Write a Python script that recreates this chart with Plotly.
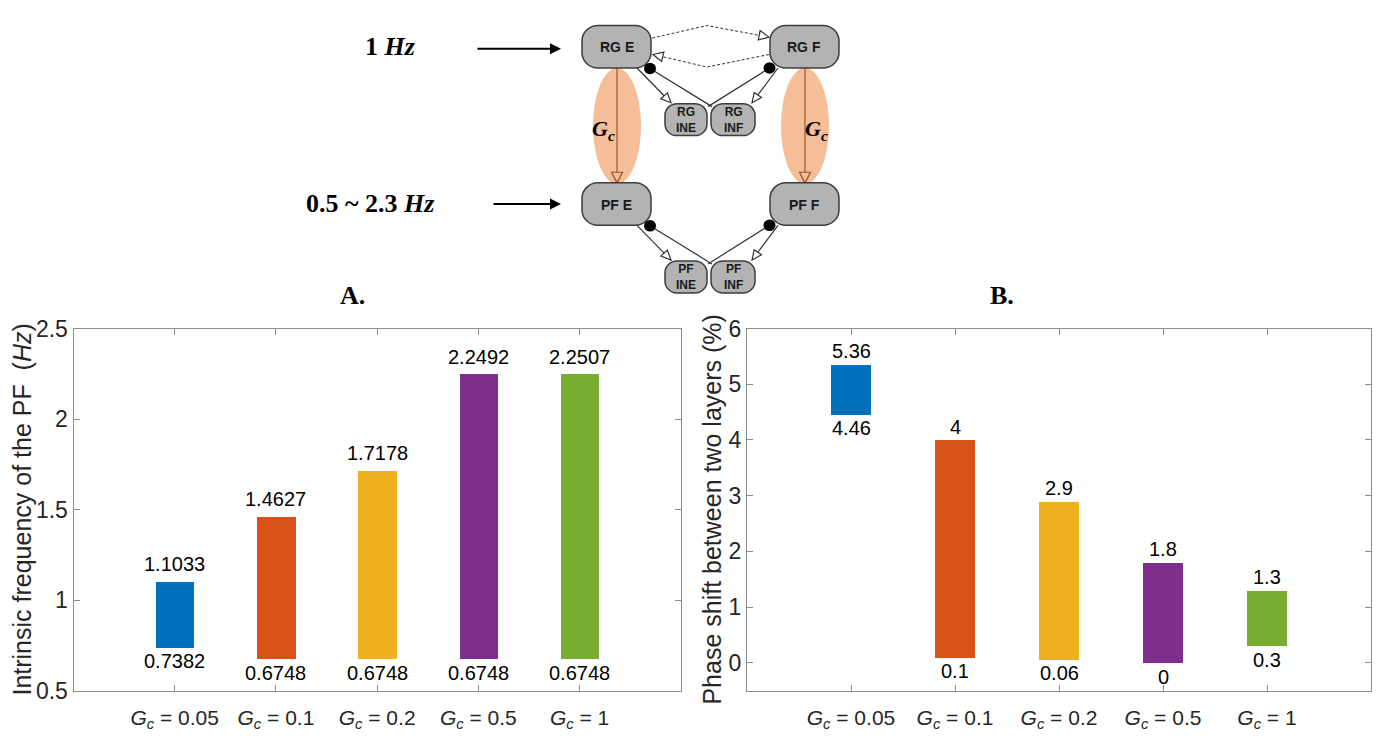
import math
import plotly.graph_objects as go

W, H = 1378, 746

# ---- data ----
gc_labels = ["0.05", "0.1", "0.2", "0.5", "1"]
positions = [1, 2, 3, 4, 5]
freq_low = [0.7382, 0.6748, 0.6748, 0.6748, 0.6748]
freq_high = [1.1033, 1.4627, 1.7178, 2.2492, 2.2507]
shift_low = [4.46, 0.1, 0.06, 0, 0.3]
shift_high = [5.36, 4, 2.9, 1.8, 1.3]
bar_colors = ["#0072BD", "#D95319", "#EDB120", "#7E2F8E", "#77AC30"]
freq_ticks = [0.5, 1, 1.5, 2, 2.5]
shift_ticks = [0, 1, 2, 3, 4, 5, 6]

tick_text = [f"<i>G</i><sub><i>c</i></sub> = {g}" for g in gc_labels]

SANS = "Arial, Liberation Sans, sans-serif"
SERIF = "Times New Roman, Liberation Serif, serif"


def fx(x):
    return x / W


def fy(y):
    return 1 - y / H


def pt(x, y):
    return f"{fx(x):.5f},{fy(y):.5f}"


def note(x, y, text, size, family=SANS, color="black", **kw):
    """Centered text placed in figure pixels."""
    d = dict(x=fx(x), y=fy(y), xref="paper", yref="paper", text=text, showarrow=False,
             xanchor="center", yanchor="middle", font=dict(family=family, size=size, color=color))
    d.update(kw)
    return d


fig = go.Figure()

# ---- bar panels ----
fig.add_trace(go.Bar(
    x=positions, y=[h - l for h, l in zip(freq_high, freq_low)], base=freq_low,
    width=0.38, marker=dict(color=bar_colors, line=dict(width=0)),
    xaxis="x", yaxis="y", showlegend=False, hoverinfo="skip"))
fig.add_trace(go.Bar(
    x=positions, y=[h - l for h, l in zip(shift_high, shift_low)], base=shift_low,
    width=0.38, marker=dict(color=bar_colors, line=dict(width=0)),
    xaxis="x2", yaxis="y2", showlegend=False, hoverinfo="skip"))

LABEL_FONT = dict(family=SANS, size=20, color="black")
annotations = []
for p, lo, hi in zip(positions, freq_low, freq_high):
    annotations.append(dict(x=p, y=hi, xref="x", yref="y", text=f"{hi:g}", showarrow=False,
                            xanchor="center", yanchor="bottom", yshift=4, font=LABEL_FONT))
    annotations.append(dict(x=p, y=lo, xref="x", yref="y", text=f"{lo:g}", showarrow=False,
                            xanchor="center", yanchor="top", yshift=-1, font=LABEL_FONT))
for p, lo, hi in zip(positions, shift_low, shift_high):
    annotations.append(dict(x=p, y=hi, xref="x2", yref="y2", text=f"{hi:g}", showarrow=False,
                            xanchor="center", yanchor="bottom", yshift=0, font=LABEL_FONT))
    annotations.append(dict(x=p, y=lo, xref="x2", yref="y2", text=f"{lo:g}", showarrow=False,
                            xanchor="center", yanchor="top", yshift=-1, font=LABEL_FONT))

# axis frames
axis_common = dict(showgrid=False, zeroline=False, showline=True, linecolor="#8c8c8c", linewidth=1,
                   mirror="ticks", ticks="inside", ticklen=6, tickcolor="#8c8c8c")
top_px, bot_px = 327, 702
ydom = [fy(bot_px), fy(top_px)]
xtick_font = dict(family=SANS, size=21, color="#262626")
ytick_font = dict(family=SANS, size=23, color="#262626")

fig.update_layout(
    xaxis=dict(domain=[fx(73.5), fx(680.8)], range=[0, 6], tickvals=positions, ticktext=tick_text,
               tickfont=xtick_font, ticklabelstandoff=8, anchor="y", **axis_common),
    yaxis=dict(domain=ydom, range=[0.5, 2.5], tickvals=freq_ticks, ticktext=[f"{v:g}" for v in freq_ticks],
               tickfont=ytick_font, anchor="x", **axis_common),
    xaxis2=dict(domain=[fx(747), fx(1371)], range=[0, 6], tickvals=positions, ticktext=tick_text,
                tickfont=xtick_font, ticklabelstandoff=8, anchor="y2", **axis_common),
    yaxis2=dict(domain=ydom, range=[-0.5, 6], tickvals=shift_ticks, ticktext=[f"{v:g}" for v in shift_ticks],
                tickfont=ytick_font, anchor="x2", **axis_common),
)

# axis titles and panel letters
annotations += [
    note(22, 514.5, "Intrinsic frequency of the PF  (<i>Hz</i>)", 25, color="#262626", textangle=-90),
    note(712, 514.5, "Phase shift between two layers (%)", 25, color="#262626", textangle=-90),
    note(352, 293, "<b>A.</b>", 26, family=SERIF),
    note(1002, 293, "<b>B.</b>", 26, family=SERIF),
]

# ---- network schematic ----
shapes = []
BOX_FILL = "#b3b3b3"
BOX_LINE = "#3c3c3c"
GC_LINE = "#9a5230"
NET_LINE = "#333333"


def rounded_box(x0, y0, x1, y1, r):
    k = 0.4477 * r
    path = (f"M{pt(x0 + r, y0)} L{pt(x1 - r, y0)} "
            f"C{pt(x1 - k, y0)} {pt(x1, y0 + k)} {pt(x1, y0 + r)} "
            f"L{pt(x1, y1 - r)} "
            f"C{pt(x1, y1 - k)} {pt(x1 - k, y1)} {pt(x1 - r, y1)} "
            f"L{pt(x0 + r, y1)} "
            f"C{pt(x0 + k, y1)} {pt(x0, y1 - k)} {pt(x0, y1 - r)} "
            f"L{pt(x0, y0 + r)} "
            f"C{pt(x0, y0 + k)} {pt(x0 + k, y0)} {pt(x0 + r, y0)} Z")
    return dict(type="path", path=path, xref="paper", yref="paper",
                fillcolor=BOX_FILL, line=dict(color=BOX_LINE, width=1.5))


def open_head(p0, p1, length=10, half=4.5, color=NET_LINE):
    dx, dy = p1[0] - p0[0], p1[1] - p0[1]
    n = math.hypot(dx, dy)
    ux, uy = dx / n, dy / n
    bx, by = p1[0] - ux * length, p1[1] - uy * length
    nx, ny = -uy, ux
    path = (f"M{pt(*p1)} L{pt(bx + nx * half, by + ny * half)} "
            f"L{pt(bx - nx * half, by - ny * half)} Z")
    return dict(type="path", path=path, xref="paper", yref="paper",
                fillcolor="rgba(0,0,0,0)", line=dict(color=color, width=1.2)), (bx, by)


def polyline(points, color=NET_LINE, width=1.2, dash="solid"):
    path = "M" + " L".join(pt(*p) for p in points)
    return dict(type="path", path=path, xref="paper", yref="paper",
                line=dict(color=color, width=width, dash=dash))


def dot(cx, cy, r=6):
    return dict(type="circle", xref="paper", yref="paper", x0=fx(cx - r), x1=fx(cx + r),
                y0=fy(cy + r), y1=fy(cy - r), fillcolor="black", line=dict(color="black", width=0))


# coupling ellipses with descending arrows
for cx in (617, 805):
    shapes.append(dict(type="circle", xref="paper", yref="paper", x0=fx(cx - 24), x1=fx(cx + 24),
                       y0=fy(177), y1=fy(57), fillcolor="#f5bd98", line=dict(width=0)))
    head, base = open_head((cx, 57), (cx, 176), length=11, half=5.5, color=GC_LINE)
    shapes.append(polyline([(cx, 57), base], color=GC_LINE, width=1.2))
    shapes.append(head)

# E/F <-> interneuron connections for both layers
for dy in (0, 163):
    # excitatory E -> INE
    head, base = open_head((637, 57 + dy), (671, 93 + dy))
    shapes += [polyline([(637, 57 + dy), base]), head]
    # excitatory F -> INF
    head, base = open_head((778, 57 + dy), (752, 93 + dy))
    shapes += [polyline([(778, 57 + dy), base]), head]
    # inhibitory INF -> E, INE -> F
    shapes.append(polyline([(712, 97 + dy), (650, 57.5 + dy)]))
    shapes.append(polyline([(708, 97 + dy), (769.5, 57 + dy)]))

# dashed mutual RG connections
head, base = open_head((707, 13), (769, 25), length=10, half=5)
shapes += [polyline([(652, 26), (707, 13), base], width=1, dash="3px,2px"), head]
head, base = open_head((707, 56), (653, 43), length=10, half=5)
shapes += [polyline([(769, 43), (707, 56), base], width=1, dash="3px,2px"), head]

# neuron populations
boxes = [
    ("RG E", 582, 13, 651, 57, 16, 14),
    ("RG F", 770, 13, 839, 57, 16, 14),
    ("PF E", 582, 176, 651, 220, 16, 14),
    ("PF F", 770, 176, 839, 220, 16, 14),
    ("RG<br>INE", 665, 94, 707, 127, 12, 12),
    ("RG<br>INF", 711, 94, 755, 127, 12, 12),
    ("PF<br>INE", 665, 257, 707, 290, 12, 12),
    ("PF<br>INF", 711, 257, 755, 290, 12, 12),
]
for label, x0, y0, x1, y1, r, fs in boxes:
    shapes.append(rounded_box(x0, y0, x1, y1, r))
    annotations.append(note((x0 + x1) / 2, (y0 + y1) / 2 + 0.5, f"<b>{label}</b>", fs, color="#1a1a1a"))

# inhibitory synapse dots
for dy in (0, 163):
    shapes.append(dot(650, 57.5 + dy))
    shapes.append(dot(769.5, 57 + dy))

# coupling labels
for gx in (603, 816):
    annotations.append(note(gx, 121, "<b><i>G</i></b><sub><b><i>c</i></b></sub>", 22, family=SERIF))

# drive inputs
annotations += [
    note(390, 35, "<b>1 <i>Hz</i></b>", 26, family=SERIF),
    note(370, 197, "<b>0.5 ~ 2.3 <i>Hz</i></b>", 26, family=SERIF),
    dict(x=fx(561), y=fy(37), xref="paper", yref="paper", ax=-85, ay=0, text="", showarrow=True,
         arrowhead=2, arrowsize=1.1, arrowwidth=2, arrowcolor="black"),
    dict(x=fx(561), y=fy(198), xref="paper", yref="paper", ax=-69, ay=0, text="", showarrow=True,
         arrowhead=2, arrowsize=1.1, arrowwidth=2, arrowcolor="black"),
]

fig.update_layout(
    width=W, height=H, margin=dict(l=0, r=0, t=0, b=0),
    paper_bgcolor="white", plot_bgcolor="white",
    shapes=shapes, annotations=annotations, bargap=0,
)

fig.write_html("out.html")
